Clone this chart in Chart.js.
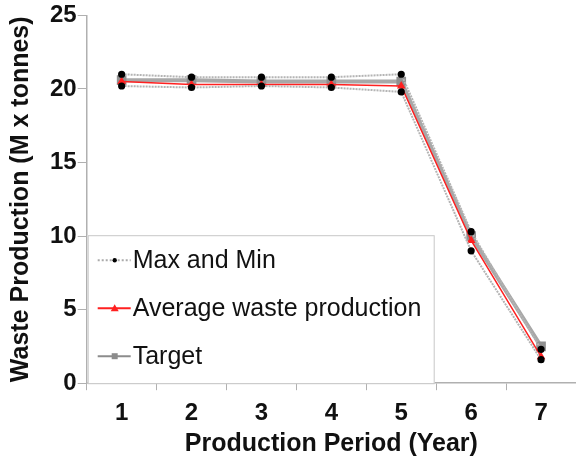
<!DOCTYPE html>
<html>
<head>
<meta charset="utf-8">
<script src="https://cdn.jsdelivr.net/npm/chart.js@4.4.1/dist/chart.umd.min.js"></script>
<style>
  html, body { margin: 0; padding: 0; background: #fff; }
  #wrap { width: 576px; height: 465px; }
</style>
</head>
<body>
<div id="wrap"><canvas id="myChart" width="576" height="465"></canvas></div>
<script>
// production periods (years)
let periods = ['1', '2', '3', '4', '5', '6', '7']
// waste production, M x tonnes
let maxValues = [21.0, 20.8, 20.8, 20.8, 21.0, 10.3, 2.3]
let minValues = [20.2, 20.1, 20.2, 20.1, 19.8, 9.0, 1.6]
let avgValues = [20.5, 20.3, 20.3, 20.3, 20.2, 9.7, 1.8]
let targetValues = [20.6, 20.6, 20.5, 20.5, 20.5, 10.0, 2.5]

let legendItems = [
  { text: 'Max and Min', color: '#aaaaaa', dash: [2, 2], marker: 'circle', markerColor: '#000' },
  { text: 'Average waste production', color: '#ff2020', dash: [], marker: 'triangle', markerColor: '#ff2020' },
  { text: 'Target', color: '#8c8c8c', dash: [], marker: 'rect', markerColor: '#8c8c8c' }
]

const FONT = '"Liberation Sans", Arial, sans-serif'

// legend drawn inside the plot, bottom left corner, like the original
const boxLegend = {
  id: 'boxLegend',
  afterDatasetsDraw(chart) {
    const ctx = chart.ctx
    const area = chart.chartArea
    const x0 = area.left + 1, w = 347, h = 148
    const y0 = area.bottom - h
    ctx.save()
    ctx.fillStyle = '#fff'
    ctx.fillRect(x0, y0, w, h)
    ctx.strokeStyle = '#c8c8c8'
    ctx.lineWidth = 1
    ctx.strokeRect(x0 + 0.5, y0 + 0.5, w - 1, h)
    ctx.font = '25px ' + FONT
    ctx.textBaseline = 'middle'
    for (let i = 0; i < legendItems.length; i++) {
      const it = legendItems[i]
      const y = y0 + 25 + i * 48
      ctx.beginPath()
      ctx.setLineDash(it.dash)
      ctx.strokeStyle = it.color
      ctx.lineWidth = 2
      ctx.moveTo(x0 + 10, y)
      ctx.lineTo(x0 + 43, y)
      ctx.stroke()
      ctx.setLineDash([])
      ctx.fillStyle = it.markerColor
      const cx = x0 + 27
      ctx.beginPath()
      if (it.marker === 'circle') {
        ctx.arc(cx, y, 2.2, 0, Math.PI * 2)
      } else if (it.marker === 'triangle') {
        ctx.moveTo(cx, y - 4); ctx.lineTo(cx + 4, y + 3); ctx.lineTo(cx - 4, y + 3); ctx.closePath()
      } else {
        ctx.rect(cx - 3, y - 3, 6, 6)
      }
      ctx.fill()
      ctx.fillStyle = '#111'
      ctx.fillText(it.text, x0 + 45, y + 1)
    }
    ctx.restore()
  }
}

var ctx = document.getElementById('myChart')
var myLineChart = new Chart(ctx, {
  type: 'line',
  data: {
    labels: periods,
    datasets: [
      {
        label: 'Max', data: maxValues, borderColor: '#b4b4b4', borderWidth: 2, borderDash: [2, 1],
        pointStyle: 'circle', pointRadius: 2.6, pointBackgroundColor: '#000', pointBorderColor: '#000', order: 1
      },
      {
        label: 'Min', data: minValues, borderColor: '#b4b4b4', borderWidth: 2, borderDash: [2, 1],
        pointStyle: 'circle', pointRadius: 2.6, pointBackgroundColor: '#000', pointBorderColor: '#000', order: 2
      },
      {
        label: 'Average waste production', data: avgValues, borderColor: '#ff2020', borderWidth: 1.5,
        pointStyle: 'triangle', pointRadius: 3.5, pointBackgroundColor: '#ff2020', pointBorderColor: '#ff2020', order: 3
      },
      {
        label: 'Target', data: targetValues, borderColor: '#a8a8a8', borderWidth: 4,
        pointStyle: 'rect', pointRadius: 4, pointBackgroundColor: '#909090', pointBorderColor: '#909090', order: 4
      }
    ]
  },
  options: {
    responsive: false,
    animation: false,
    layout: { autoPadding: false, padding: { top: 2, left: 6, right: -1, bottom: 8 } },
    plugins: {
      legend: { display: false },
      tooltip: { enabled: false }
    },
    scales: {
      x: {
        offset: true,
        grid: { offset: true, drawOnChartArea: false, color: '#b0b0b0', tickLength: 7 },
        border: { color: '#b0b0b0', width: 1.5 },
        ticks: { color: '#111', font: { family: FONT, size: 24, weight: 'bold' }, padding: 9 },
        title: {
          display: true, text: 'Production Period (Year)', color: '#111',
          font: { family: FONT, size: 25, weight: 'bold', lineHeight: 1 }, padding: { top: -5, bottom: 0 }
        }
      },
      y: {
        min: 0, max: 25,
        grid: { drawOnChartArea: false, color: '#b0b0b0', tickLength: 9 },
        border: { color: '#b0b0b0', width: 1.5 },
        ticks: { stepSize: 5, color: '#111', font: { family: FONT, size: 24, weight: 'bold' }, padding: 1 },
        title: {
          display: true, text: 'Waste Production (M x tonnes)', color: '#111',
          font: { family: FONT, size: 25, weight: 'bold' }, padding: { top: 0, bottom: 13 }
        }
      }
    }
  },
  plugins: [boxLegend]
})
</script>
</body>
</html>
